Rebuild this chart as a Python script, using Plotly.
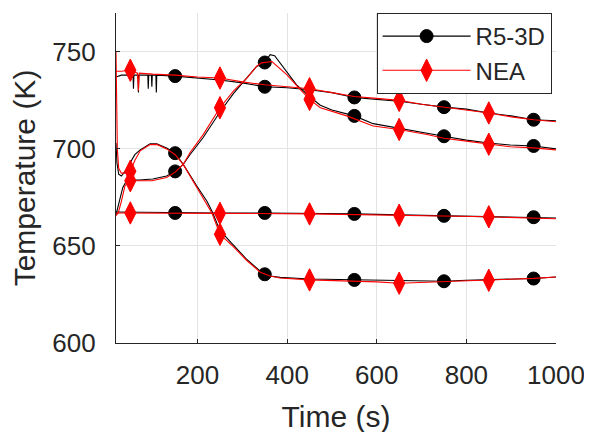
import plotly.graph_objects as go

# ---------------- data ----------------
# R5-3D (black) curves
tA_b = [18, 30, 50, 56, 57, 58, 67, 68, 69, 89, 90, 91, 97, 98, 99, 107, 108, 109, 150, 200, 250, 300, 350, 400,
        450, 500, 550, 600, 650, 700, 750, 800, 850, 900, 950, 1000]
yA_b = [737, 738, 738, 738, 731, 738, 738, 729, 738, 738, 731, 738, 738, 732, 738, 738, 729, 738, 737.5, 736.5,
        735.5, 734, 732, 731.5, 730.5, 729, 726.5, 725.5, 724.5, 723, 721.5, 720.5, 718.5, 717, 715, 714.5]

tB_b = [18, 20, 24, 30, 40, 50, 60, 72, 94, 109, 131, 150, 168, 198, 221, 232, 250, 276, 310, 340, 350, 362, 384,
        450, 500, 550, 600, 650, 700, 750, 800, 850, 900, 950, 1000]
yB_b = [703, 693, 687, 686, 689, 693, 697, 699.5, 702.6, 702.6, 700.4, 697.8, 692, 681, 673, 668, 658, 651.5, 643,
        637, 635.4, 634.5, 633.8, 633, 632.8, 632.5, 632.3, 632, 632, 631.8, 632.3, 632.5, 633, 633.2, 634]

tC_b = [18, 22, 27, 33, 40, 50, 70, 100, 131, 150, 168, 183, 213, 250, 280, 310, 332, 350, 362, 372, 390, 421, 450,
        474, 500, 533, 550, 592, 650, 712, 750, 800, 850, 898, 950, 1000]
yC_b = [666, 670, 675, 680, 683, 684, 684, 684.5, 686, 688.4, 692, 697, 706, 719, 728.5, 736.5, 742.5, 744.5,
        748.5, 748, 742.5, 733, 727, 722.5, 720, 718, 717, 713, 710.5, 708, 706.5, 704.5, 703, 702, 701.5, 700]

tD_b = [18, 150, 250, 350, 450, 550, 650, 750, 850, 950, 1000]
yD_b = [667.5, 667, 667, 667, 666.8, 666.5, 666, 665.5, 665, 664.8, 664.4]

# NEA (red) curves
tA_r = [18, 30, 50, 66, 67, 68, 69, 70, 100, 150, 200, 250, 300, 350, 400, 450, 500, 550, 600, 650, 700, 750, 800,
        850, 900, 950, 1000]
yA_r = [740, 740, 740.5, 739, 735, 730, 735, 739, 738.5, 738, 737, 736.5, 734.5, 733, 732, 731, 729, 727, 726, 725,
        723, 721.5, 720, 718.5, 716.5, 715, 714]

tB_r = [18, 19, 21, 24, 30, 40, 50, 60, 72, 94, 109, 131, 150, 168, 198, 221, 232, 250, 276, 310, 340, 362, 384,
        450, 500, 550, 600, 650, 700, 750, 800, 850, 900, 950, 1000]
yB_r = [750, 730, 700, 690, 687.5, 687.5, 688.5, 694, 699, 702.2, 702.3, 700, 697, 692, 680, 671, 667, 656, 650.5,
        642.5, 636.5, 634.5, 633.5, 632.5, 632.2, 632, 631.5, 630.8, 631.2, 631.8, 632, 632.3, 632.8, 633.3, 634]

tC_r = [18, 23, 30, 38, 50, 70, 98, 131, 150, 168, 183, 213, 250, 280, 310, 332, 343, 366, 399, 429, 450, 474, 533,
        592, 650, 712, 750, 800, 850, 898, 950, 1000]
yC_r = [665.6, 667, 673, 681, 683.6, 683.6, 683.6, 685.3, 688, 692, 698, 707.5, 721.2, 729.7, 736.5, 742.6, 744.3,
        745, 738.3, 730.6, 725.5, 721.2, 717, 711.8, 710, 707.4, 705.5, 704, 702.4, 701.1, 700.5, 699.5]

tD_r = [18, 50, 250, 450, 650, 850, 1000]
yD_r = [667, 667, 666.8, 666.5, 665.8, 665, 664]

marker_t_black = [150, 350, 550, 750, 950]
marker_t_red = [50, 250, 450, 650, 850]

x_ticks = [200, 400, 600, 800, 1000]
y_ticks = [600, 650, 700, 750]

series_names = ["R5-3D", "NEA"]

# ---------------- figure ----------------
BLACK = "#000000"
RED = "#ff0000"
FONT = "Liberation Sans, Arial, sans-serif"
TXT = "#262626"

fig = go.Figure()


def add_series(curves, marker_times, color, symbol, msize, name):
    for t, y in curves:
        fig.add_trace(go.Scatter(x=t, y=y, mode="lines", line=dict(color=color, width=1.1),
                                 showlegend=False, hoverinfo="skip", legendgroup=name))
    for t, y in curves:
        mx = [ti for ti in t if ti in marker_times]
        my = [yi for ti, yi in zip(t, y) if ti in marker_times]
        fig.add_trace(go.Scatter(x=mx, y=my, mode="markers",
                                 marker=dict(color=color, symbol=symbol, size=msize,
                                             line=dict(color=color, width=1)),
                                 showlegend=False, legendgroup=name))
    fig.add_trace(go.Scatter(x=[None], y=[None], mode="lines+markers", name=name, legendgroup=name,
                             line=dict(color=color, width=1.1),
                             marker=dict(color=color, symbol=symbol, size=msize,
                                         line=dict(color=color, width=1))))


add_series([(tA_b, yA_b), (tB_b, yB_b), (tC_b, yC_b), (tD_b, yD_b)], marker_t_black, BLACK, "circle", 13,
           series_names[0])
add_series([(tA_r, yA_r), (tB_r, yB_r), (tC_r, yC_r), (tD_r, yD_r)], marker_t_red, RED, "diamond-tall", 16,
           series_names[1])

# page body has an 8 px default margin, so the margins below compensate for it
fig.update_layout(
    width=592, height=432,
    margin=dict(l=108, r=44, t=5, b=97, autoexpand=False),
    paper_bgcolor="white", plot_bgcolor="white",
    font=dict(family=FONT, size=26, color=TXT),
    showlegend=True,
    legend=dict(x=0.99, xanchor="right", y=1.0, yanchor="top",
                bgcolor="white", bordercolor=TXT, borderwidth=1,
                font=dict(size=24, color=TXT), itemwidth=88, tracegroupgap=0),
)
fig.update_xaxes(range=[18, 1000], tickvals=x_ticks, ticktext=[str(v) for v in x_ticks],
                 showgrid=True, gridcolor="#e3e3e3", gridwidth=1,
                 showline=True, linecolor=TXT, linewidth=1.3, mirror=False,
                 ticks="inside", ticklen=4, tickcolor=TXT, ticklabelstandoff=9,
                 zeroline=False, automargin=False,
                 title=dict(text="Time (s)", font=dict(size=30, color=TXT), standoff=16))
fig.update_yaxes(range=[600, 770], tickvals=y_ticks, ticktext=[str(v) for v in y_ticks],
                 showgrid=True, gridcolor="#e3e3e3", gridwidth=1,
                 showline=True, linecolor=TXT, linewidth=1.3, mirror=False,
                 ticks="inside", ticklen=4, tickcolor=TXT, ticklabelstandoff=14,
                 zeroline=False, automargin=False,
                 title=dict(text="Temperature (K)", font=dict(size=30, color=TXT), standoff=8))

fig.write_html("out.html")
